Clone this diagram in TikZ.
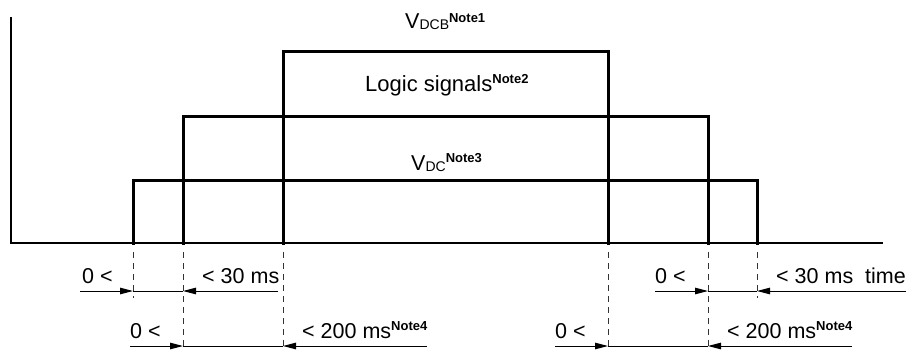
\documentclass[tikz,border=0pt]{standalone}
\usepackage{fontspec}
\setmainfont{Liberation Sans}
\usetikzlibrary{arrows.meta}
\newcommand\nsup[2][7pt]{\raisebox{#1}{\fontsize{13}{13}\selectfont\bfseries #2}}
\newcommand\nsub[1]{\raisebox{-1.5pt}{\fontsize{14}{14}\selectfont #1}}
\begin{document}
\begin{tikzpicture}[x=1pt,y=-1pt,
  wave/.style={line width=3pt, line join=miter, line cap=rect},
  axis/.style={line width=2.6pt},
  guide/.style={line width=1pt, dash pattern=on 6pt off 5pt, draw=black!80},
  dimline/.style={line width=1pt},
  dimarrow/.style={line width=1pt, -{Triangle[length=13pt,width=6.5pt]}},
  lbl/.style={font=\fontsize{21.5}{26}\selectfont, inner sep=0pt, anchor=base west},
  biglbl/.style={font=\fontsize{22}{27}\selectfont, inner sep=0pt, anchor=base west}]
\useasboundingbox (0,0) rectangle (906,351);
% axes
\coordinate (O) at (11,243);
\coordinate (ytop) at (11,17);
\coordinate (xend) at (883,243);
\draw[axis] (ytop) -- (O) -- (xend);
% edges on the time axis
\coordinate (e1) at (133,243);
\coordinate (e2) at (183,243);
\coordinate (e3) at (283,243);
\coordinate (e4) at (608,243);
\coordinate (e5) at (708,243);
\coordinate (e6) at (757,243);
% levels
\coordinate (lvdc) at (0,180);
\coordinate (lvdcb) at (0,116);
\coordinate (llog) at (0,51);
% waveforms
\draw[wave] (e1) -- (e1 |- lvdc) -- (e6 |- lvdc) -- (e6);
\draw[wave] (e2) -- (e2 |- lvdcb) -- (e5 |- lvdcb) -- (e5);
\draw[wave] (e3) -- (e3 |- llog) -- (e4 |- llog) -- (e4);
% guide lines
\coordinate (gtop) at (0,252);
\coordinate (gmid) at (0,298);
\coordinate (gbot) at (0,351);
\draw[guide] (e1 |- gtop) -- (e1 |- gmid);
\draw[guide] (e2 |- gtop) -- (e2 |- gbot);
\draw[guide] (e3 |- gtop) -- (e3 |- gbot);
\draw[guide] (e4 |- gtop) -- (e4 |- gbot);
\draw[guide] (e5 |- gtop) -- (e5 |- gbot);
\draw[guide] (e6 |- gtop) -- (e6 |- gmid);
% dimension rows
\coordinate (r1) at (0,291);
\coordinate (r2) at (0,346);
\coordinate (s1) at (80,291);
\coordinate (s2) at (278,291);
\coordinate (s3) at (655,291);
\coordinate (s4) at (906,291);
\coordinate (t1) at (130,346);
\coordinate (t2) at (427,346);
\coordinate (t3) at (555,346);
\coordinate (t4) at (852,346);
\draw[dimarrow] (s1) -- (e1 |- r1);
\draw[dimline] (e1 |- r1) -- (e2 |- r1);
\draw[dimarrow] (s2) -- (e2 |- r1);
\draw[dimarrow] (s3) -- (e5 |- r1);
\draw[dimline] (e5 |- r1) -- (e6 |- r1);
\draw[dimarrow] (s4) -- (e6 |- r1);
\draw[dimarrow] (t1) -- (e2 |- r2);
\draw[dimline] (e2 |- r2) -- (e3 |- r2);
\draw[dimarrow] (t2) -- (e3 |- r2);
\draw[dimarrow] (t3) -- (e4 |- r2);
\draw[dimline] (e4 |- r2) -- (e5 |- r2);
\draw[dimarrow] (t4) -- (e5 |- r2);
% labels
\node[lbl] (vdcb) at (405,28) {V\nsub{DCB}\nsup[6pt]{Note1}};
\node[biglbl] (logic) at (365,91) {Logic signals\nsup[8pt]{Note2}};
\node[lbl] (vdc) at (411,170) {V\nsub{DC}\nsup[8pt]{Note3}};
\node[lbl] (a1) at (82,283) {0 <};
\node[lbl] (a2) at (202,283) {< 30 ms};
\node[lbl] (a3) at (655,283) {0 <};
\node[lbl] (a4) at (776,283) {< 30 ms\ \ time};
\node[lbl] (b1) at (130,338) {0 <};
\node[lbl] (b2) at (302,338) {< 200 ms\nsup[8pt]{Note4}};
\node[lbl] (b3) at (555,338) {0 <};
\node[lbl] (b4) at (727,338) {< 200 ms\nsup[8pt]{Note4}};
\end{tikzpicture}
\end{document}
